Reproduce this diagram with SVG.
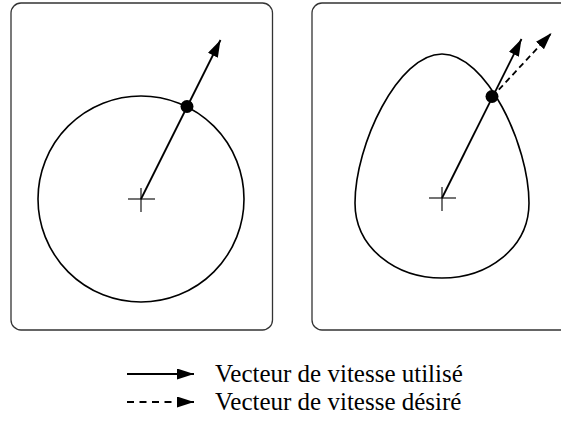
<svg xmlns="http://www.w3.org/2000/svg" width="561" height="427" viewBox="0 0 561 427">
  <defs>
    <style>
      .panel { fill: #fff; stroke: #333; stroke-width: 1.3; }
      .curve { fill: none; stroke: #000; stroke-width: 1.6; }
      .vec { fill: none; stroke: #000; stroke-width: 1.8; }
      .dash { stroke-dasharray: 6 4; }
      .ldash { stroke-dasharray: 7 5.5; }
      .cross { stroke: #000; stroke-width: 1.1; }
      .label { font-family: "Liberation Serif", "Times New Roman", serif; font-size: 25px; fill: #000; }
    </style>
    <marker id="ah" markerUnits="userSpaceOnUse" markerWidth="18" markerHeight="12" refX="17" refY="5.5" orient="auto">
      <path d="M0,0 L17,5.5 L0,11 z" fill="#000"/>
    </marker>
  </defs>
  <rect width="561" height="427" fill="#fff"/>

  <g id="panel-left">
    <rect class="panel" x="11" y="3" width="261.5" height="327" rx="10"/>
    <circle class="curve" cx="141" cy="199" r="103"/>
    <line class="cross" x1="128" y1="199" x2="155" y2="199"/>
    <line class="cross" x1="141" y1="188" x2="141" y2="212"/>
  </g>

  <g id="panel-right">
    <rect class="panel" x="312" y="3" width="260" height="327" rx="10"/>
    <path class="curve" d="M442,54 C486,54 529,145 529,203 C529,248 488,278 442,278 C396,278 355,248 355,203 C355,145 398,54 442,54 Z"/>
    <line class="cross" x1="429" y1="198" x2="456" y2="198"/>
    <line class="cross" x1="442" y1="187" x2="442" y2="211"/>
  </g>

  <g id="connectors">
    <line class="vec" x1="141" y1="199" x2="220.5" y2="40" marker-end="url(#ah)"/>
    <circle cx="187" cy="106.5" r="6.5" fill="#000"/>
    <line class="vec" x1="442" y1="198" x2="521.5" y2="39" marker-end="url(#ah)"/>
    <line class="vec dash" x1="492" y1="97" x2="551.5" y2="33" marker-end="url(#ah)"/>
    <circle cx="492" cy="96.5" r="6.5" fill="#000"/>
  </g>

  <g id="legend">
    <line class="vec" x1="127" y1="374" x2="194" y2="374" marker-end="url(#ah)"/>
    <text class="label" x="215" y="381.5">Vecteur de vitesse utilisé</text>
    <line class="vec ldash" x1="127" y1="402" x2="194" y2="402" marker-end="url(#ah)"/>
    <text class="label" x="215" y="410">Vecteur de vitesse désiré</text>
  </g>
</svg>
